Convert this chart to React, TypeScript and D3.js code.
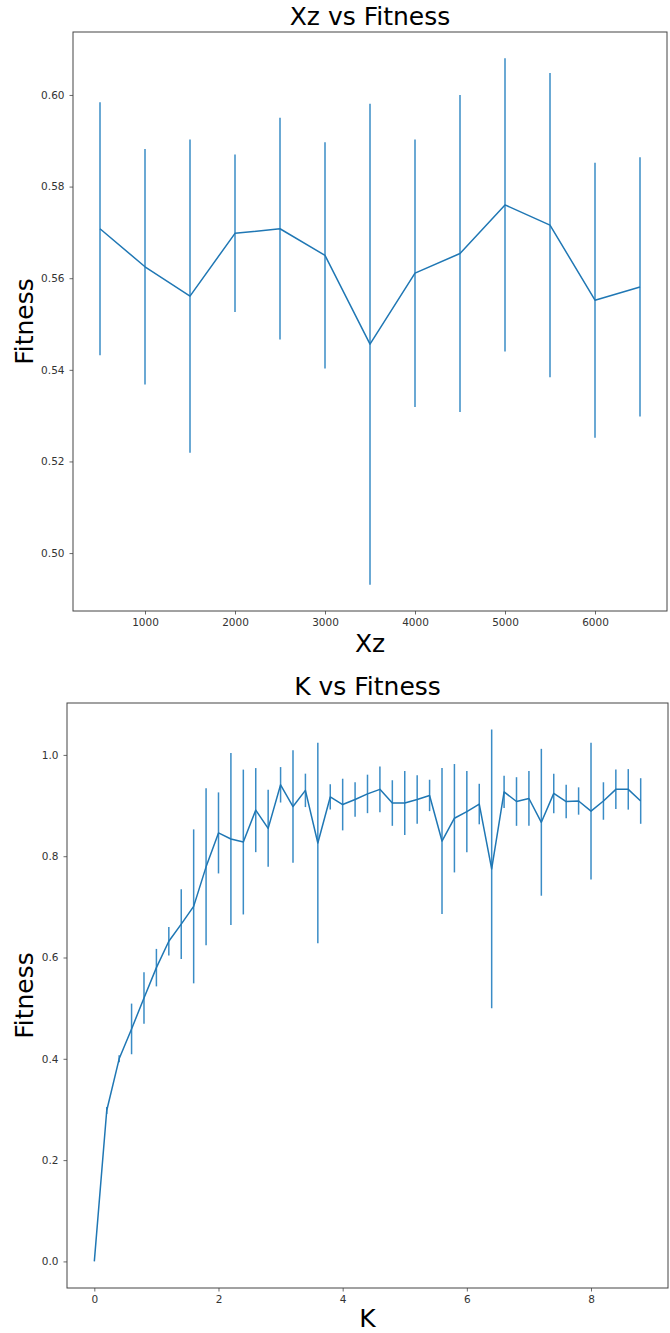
import { useRef, useEffect } from 'react'
import * as d3 from 'd3'

// Xz sweep
const xzValues = [500, 1000, 1500, 2000, 2500, 3000, 3500, 4000, 4500, 5000, 5500, 6000, 6500]
const xzFitness = [0.5708, 0.5625, 0.5561, 0.5698, 0.5708, 0.5650, 0.5456, 0.5611, 0.5654, 0.5760, 0.5716, 0.5552, 0.5581]
const xzError = [0.0276, 0.0257, 0.0342, 0.0172, 0.0242, 0.0247, 0.0525, 0.0292, 0.0346, 0.0320, 0.0332, 0.0300, 0.0283]
const xzTicks = [1000, 2000, 3000, 4000, 5000, 6000]
const xzFitnessTicks = [0.50, 0.52, 0.54, 0.56, 0.58, 0.60]

// K sweep
const kValues = [
  0, 0.2, 0.4, 0.6, 0.8, 1.0, 1.2, 1.4, 1.6, 1.8, 2.0, 2.2, 2.4, 2.6, 2.8,
  3.0, 3.2, 3.4, 3.6, 3.8, 4.0, 4.2, 4.4, 4.6, 4.8, 5.0, 5.2, 5.4, 5.6, 5.8,
  6.0, 6.2, 6.4, 6.6, 6.8, 7.0, 7.2, 7.4, 7.6, 7.8, 8.0, 8.2, 8.4, 8.6, 8.8,
]
const kFitness = [
  0.0, 0.298, 0.400, 0.459, 0.520, 0.580, 0.632, 0.666, 0.701, 0.779, 0.846, 0.834, 0.828, 0.891, 0.855,
  0.941, 0.898, 0.930, 0.826, 0.917, 0.902, 0.912, 0.923, 0.932, 0.905, 0.905, 0.912, 0.920, 0.830, 0.875,
  0.888, 0.903, 0.775, 0.927, 0.908, 0.914, 0.867, 0.924, 0.908, 0.909, 0.889, 0.909, 0.932, 0.932, 0.909,
]
const kError = [
  0.0, 0.007, 0.007, 0.050, 0.051, 0.037, 0.028, 0.069, 0.152, 0.155, 0.080, 0.170, 0.143, 0.083, 0.076,
  0.035, 0.111, 0.033, 0.198, 0.025, 0.051, 0.034, 0.038, 0.045, 0.045, 0.063, 0.048, 0.031, 0.144, 0.107,
  0.080, 0.040, 0.275, 0.032, 0.048, 0.054, 0.145, 0.039, 0.033, 0.027, 0.135, 0.037, 0.039, 0.040, 0.045,
]
const kTicks = [0, 2, 4, 6, 8]
const kFitnessTicks = [0.0, 0.2, 0.4, 0.6, 0.8, 1.0]

const FONT = '"DejaVu Sans", Verdana, sans-serif'
const LINE = '#1f77b4'

// matplotlib-style 5% margins
function padded([lo, hi]) {
  const p = (hi - lo) * 0.05
  return [lo - p, hi + p]
}

function ErrorPanel({ xs, ys, errs, box, title, titleY, xLabel, xLabelY, xTicks, yTicks, yFormat }) {
  const gRef = useRef(null)

  useEffect(() => {
    const g = d3.select(gRef.current)
    g.selectAll('*').remove()

    const { left, right, top, bottom } = box
    const x = d3.scaleLinear().domain(padded(d3.extent(xs))).range([left, right])
    const lows = ys.map((v, i) => v - errs[i])
    const highs = ys.map((v, i) => v + errs[i])
    const y = d3.scaleLinear().domain(padded([d3.min(lows), d3.max(highs)])).range([bottom, top])

    // error bars
    g.append('g')
      .selectAll('line')
      .data(xs)
      .join('line')
      .attr('x1', d => x(d))
      .attr('x2', d => x(d))
      .attr('y1', (d, i) => y(lows[i]))
      .attr('y2', (d, i) => y(highs[i]))
      .attr('stroke', '#3a8cc6')
      .attr('stroke-width', 1.5)

    const line = d3.line()
      .x((d, i) => x(xs[i]))
      .y(d => y(d))

    g.append('path')
      .datum(ys)
      .attr('d', line)
      .attr('fill', 'none')
      .attr('stroke', LINE)
      .attr('stroke-width', 1.5)
      .attr('stroke-linejoin', 'round')

    // axes
    const xAxis = g.append('g')
      .attr('transform', `translate(0,${bottom})`)
      .call(d3.axisBottom(x).tickValues(xTicks).tickSize(3.5).tickPadding(4.5).tickFormat(d3.format('d')))
    const yAxis = g.append('g')
      .attr('transform', `translate(${left},0)`)
      .call(d3.axisLeft(y).tickValues(yTicks).tickSize(3.5).tickPadding(5).tickFormat(d3.format(yFormat)))

    for (const ax of [xAxis, yAxis]) {
      ax.select('.domain').remove()
      ax.selectAll('.tick line').attr('stroke', '#444').attr('stroke-width', 0.8)
      ax.selectAll('.tick text')
        .attr('fill', '#333')
        .style('font-family', FONT)
        .style('font-size', '10.5px')
    }

    // frame
    g.append('rect')
      .attr('x', left)
      .attr('y', top)
      .attr('width', right - left)
      .attr('height', bottom - top)
      .attr('fill', 'none')
      .attr('stroke', '#444')
      .attr('stroke-width', 1)

    const cx = (left + right) / 2
    g.append('text')
      .attr('x', cx)
      .attr('y', titleY)
      .attr('text-anchor', 'middle')
      .style('font-family', FONT)
      .style('font-size', '25px')
      .text(title)

    g.append('text')
      .attr('x', cx)
      .attr('y', xLabelY)
      .attr('text-anchor', 'middle')
      .style('font-family', FONT)
      .style('font-size', '25px')
      .text(xLabel)

    g.append('text')
      .attr('transform', `translate(33,${(top + bottom) / 2}) rotate(-90)`)
      .attr('text-anchor', 'middle')
      .style('font-family', FONT)
      .style('font-size', '25px')
      .text('Fitness')
  }, [xs, ys, errs, box, title, titleY, xLabel, xLabelY, xTicks, yTicks, yFormat])

  return <g ref={gRef} />
}

export default function App() {
  return (
    <div style={{ position: 'absolute', left: 0, top: 0 }}>
      <svg width={670} height={1333} style={{ display: 'block', background: '#fff' }}>
        <ErrorPanel
          xs={xzValues}
          ys={xzFitness}
          errs={xzError}
          box={{ left: 73, right: 667, top: 32, bottom: 611 }}
          title="Xz vs Fitness"
          titleY={25}
          xLabel="Xz"
          xLabelY={652}
          xTicks={xzTicks}
          yTicks={xzFitnessTicks}
          yFormat=".2f"
        />
        <ErrorPanel
          xs={kValues}
          ys={kFitness}
          errs={kError}
          box={{ left: 67, right: 668, top: 703, bottom: 1288 }}
          title="K vs Fitness"
          titleY={695}
          xLabel="K"
          xLabelY={1327}
          xTicks={kTicks}
          yTicks={kFitnessTicks}
          yFormat=".1f"
        />
      </svg>
    </div>
  )
}
